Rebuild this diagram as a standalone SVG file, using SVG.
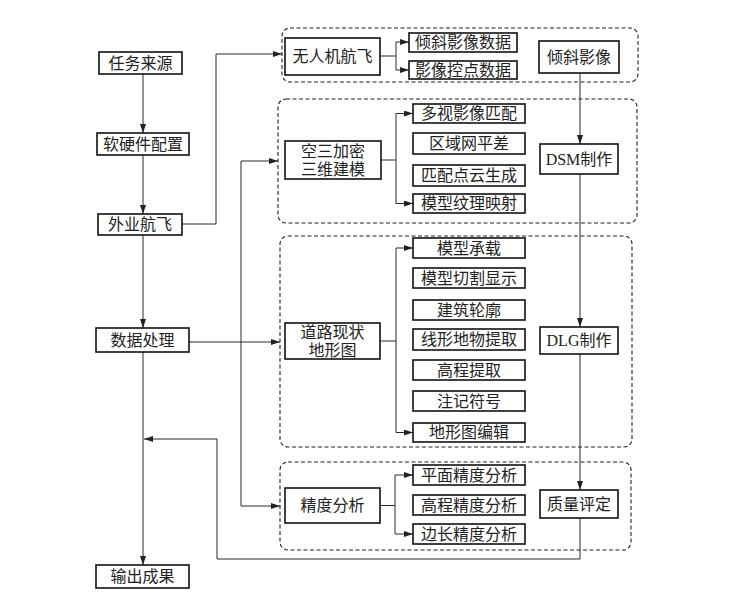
<svg xmlns="http://www.w3.org/2000/svg" width="747" height="605" viewBox="0 0 747 605">
<style>
.box{fill:#fff;stroke:#111;stroke-width:1.6}
.grp{fill:none;stroke:#222;stroke-width:1.1;stroke-dasharray:4 2.5}
.ln{fill:none;stroke:#2a2a2a;stroke-width:1}
.ar{marker-end:url(#ah)}
text{font-family:"Liberation Serif","Noto Sans CJK SC",serif;font-size:16px;fill:#222;text-anchor:middle;dominant-baseline:central}
</style>
<defs>
<marker id="ah" markerUnits="userSpaceOnUse" markerWidth="9" markerHeight="6" refX="9" refY="3" orient="auto">
<path d="M0,0 L9,3 L0,6 z" fill="#222"/>
</marker>
</defs>
<rect width="747" height="605" fill="#fff"/>

<g id="groups">
<rect class="grp" x="282" y="28" width="356" height="54" rx="8"/>
<rect class="grp" x="278" y="99" width="359" height="124" rx="8"/>
<rect class="grp" x="280" y="236" width="352" height="211" rx="8"/>
<rect class="grp" x="280" y="462" width="351" height="88" rx="8"/>
</g>

<g id="connectors">
<path class="ln ar" d="M143,74 V133"/>
<path class="ln ar" d="M143,155 V214"/>
<path class="ln ar" d="M143,235 V328"/>
<path class="ln ar" d="M143,352 V565"/>
<path class="ln ar" d="M182,224 H216 V54 H282"/>
<path class="ln ar" d="M241,342 V161 H278"/>
<path class="ln ar" d="M241,342 V506 H280"/>
<path class="ln ar" d="M189,342 H280"/>
<path class="ln ar" d="M580,518 V559 H217 V439 H144"/>
<path class="ln ar" d="M580,73 V144"/>
<path class="ln ar" d="M580,174 V327"/>
<path class="ln ar" d="M580,354 V490"/>
<path class="ln" d="M380,56 H396"/>
<path class="ln ar" d="M396,56 V42 H409"/>
<path class="ln ar" d="M396,56 V70 H409"/>
<path class="ln" d="M381,160 H396"/>
<path class="ln ar" d="M396,160 V113.5 H413"/>
<path class="ln ar" d="M396,160 V203.5 H413"/>
<path class="ln" d="M380,341 H396"/>
<path class="ln ar" d="M396,341 V248 H413"/>
<path class="ln ar" d="M396,341 V432.5 H413"/>
<path class="ln" d="M380,505.5 H395"/>
<path class="ln ar" d="M395,505.5 V475 H413"/>
<path class="ln ar" d="M395,505.5 V534 H413"/>
</g>

<g id="n-rwly"><rect class="box" x="99" y="52" width="83" height="22"/><text x="140.5" y="63">任务来源</text></g>
<g id="n-rypz"><rect class="box" x="97" y="133" width="92" height="22"/><text x="143" y="144">软硬件配置</text></g>
<g id="n-wyhf"><rect class="box" x="98" y="214" width="84" height="21"/><text x="140" y="224.5">外业航飞</text></g>
<g id="n-sjcl"><rect class="box" x="96" y="328" width="93" height="24"/><text x="142.5" y="340">数据处理</text></g>
<g id="n-sccg"><rect class="box" x="96" y="565" width="93" height="23"/><text x="142.5" y="576.5">输出成果</text></g>

<g id="n-wrj"><rect class="box" x="285" y="38" width="95" height="37"/><text x="332.5" y="56.5">无人机航飞</text></g>
<g id="n-qxsj"><rect class="box" x="409" y="33" width="108" height="19"/><text x="463" y="42.5">倾斜影像数据</text></g>
<g id="n-kdsj"><rect class="box" x="409" y="61" width="108" height="18"/><text x="463" y="70">影像控点数据</text></g>
<g id="n-qxyx"><rect class="box" x="539" y="41" width="80" height="32"/><text x="579" y="57">倾斜影像</text></g>

<g id="n-ks"><rect class="box" x="285" y="141" width="96" height="38"/><text x="333" y="151">空三加密</text><text x="333" y="169">三维建模</text></g>
<g id="n-dspp"><rect class="box" x="413" y="104" width="112" height="19"/><text x="469" y="113.5">多视影像匹配</text></g>
<g id="n-qywpc"><rect class="box" x="413" y="133" width="112" height="21"/><text x="469" y="143.5">区域网平差</text></g>
<g id="n-ppdy"><rect class="box" x="413" y="165" width="112" height="21"/><text x="469" y="175.5">匹配点云生成</text></g>
<g id="n-wlys"><rect class="box" x="413" y="194" width="112" height="19"/><text x="469" y="203.5">模型纹理映射</text></g>
<g id="n-dsm"><rect class="box" x="540" y="144" width="78" height="30"/><text x="579" y="159">DSM制作</text></g>

<g id="n-dlxz"><rect class="box" x="285" y="323" width="95" height="36"/><text x="332.5" y="332">道路现状</text><text x="332.5" y="350">地形图</text></g>
<g id="n-mxcz"><rect class="box" x="413" y="238" width="112" height="20"/><text x="469" y="248">模型承载</text></g>
<g id="n-mxqg"><rect class="box" x="413" y="268" width="112" height="20"/><text x="469" y="278">模型切割显示</text></g>
<g id="n-jzlk"><rect class="box" x="413" y="300" width="112" height="20"/><text x="469" y="310">建筑轮廓</text></g>
<g id="n-xxdw"><rect class="box" x="413" y="329" width="112" height="21"/><text x="469" y="339.5">线形地物提取</text></g>
<g id="n-gctq"><rect class="box" x="413" y="360" width="112" height="20"/><text x="469" y="370">高程提取</text></g>
<g id="n-zjfh"><rect class="box" x="413" y="391" width="112" height="20"/><text x="469" y="401">注记符号</text></g>
<g id="n-dxtbj"><rect class="box" x="413" y="423" width="112" height="19"/><text x="469" y="432.5">地形图编辑</text></g>
<g id="n-dlg"><rect class="box" x="540" y="327" width="78" height="27"/><text x="579" y="340.5">DLG制作</text></g>

<g id="n-jdfx"><rect class="box" x="285" y="488" width="95" height="35"/><text x="332.5" y="505.5">精度分析</text></g>
<g id="n-pmjd"><rect class="box" x="413" y="465" width="112" height="20"/><text x="469" y="475">平面精度分析</text></g>
<g id="n-gcjd"><rect class="box" x="413" y="495" width="112" height="20"/><text x="469" y="505">高程精度分析</text></g>
<g id="n-bcjd"><rect class="box" x="413" y="524" width="112" height="20"/><text x="469" y="534">边长精度分析</text></g>
<g id="n-zlpd"><rect class="box" x="540" y="490" width="78" height="28"/><text x="579" y="504">质量评定</text></g>
</svg>
